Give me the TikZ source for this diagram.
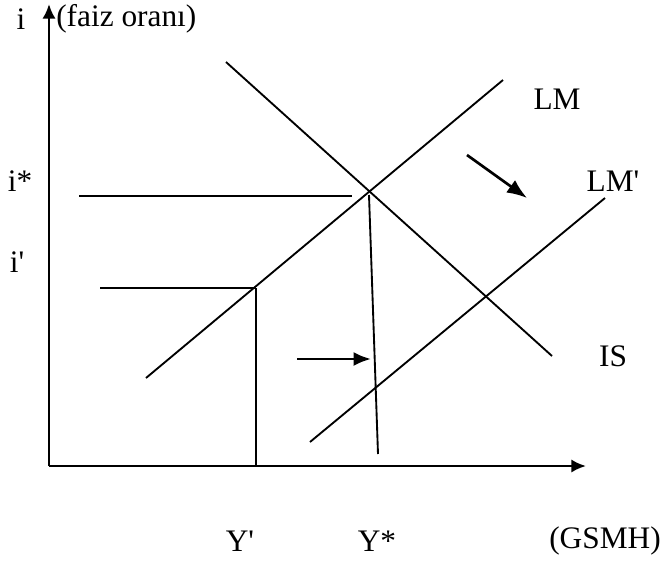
\documentclass[tikz,border=0pt]{standalone}
\usepackage{fontspec}
\setmainfont{Liberation Serif}
\usepackage{tikz}
\usetikzlibrary{arrows.meta}
\pgfdeclarelayer{edgelayer}
\pgfdeclarelayer{nodelayer}
\pgfsetlayers{edgelayer,nodelayer,main}
\tikzstyle{none}=[inner sep=0pt]
\tikzstyle{caption}=[inner sep=0pt, font=\fontsize{23.5}{28}\selectfont]
\tikzstyle{curve}=[draw=black, line width=1.4pt]
\tikzstyle{axis}=[draw=black, line width=2pt, -{Latex[length=11pt,width=10pt]}]
\tikzstyle{move}=[draw=black, line width=2pt, -{Latex[length=13pt,width=10.5pt]}]

\begin{document}
\begin{tikzpicture}[x=0.75pt, y=-0.75pt]
			\useasboundingbox (0, 0) rectangle (662, 565);
			\begin{pgfonlayer}{nodelayer}
			\node [style=none] (0) at (49, 466) {};
			\node [style=none] (1) at (49, 4) {};
			\node [style=none] (2) at (586, 466) {};
			\node [style=none] (3) at (146, 378) {};
			\node [style=none] (4) at (503, 80) {};
			\node [style=none] (5) at (226, 62) {};
			\node [style=none] (6) at (552, 356) {};
			\node [style=none] (7) at (310, 442) {};
			\node [style=none] (8) at (605, 198) {};
			\node [style=none] (9) at (79, 196) {};
			\node [style=none] (10) at (352, 196) {};
			\node [style=none] (11) at (369, 195) {};
			\node [style=none] (12) at (378, 454) {};
			\node [style=none] (13) at (100, 288) {};
			\node [style=none] (14) at (256, 288) {};
			\node [style=none] (15) at (256, 466) {};
			\node [style=none] (16) at (467, 155) {};
			\node [style=none] (17) at (527, 198) {};
			\node [style=none] (18) at (297, 359) {};
			\node [style=none] (19) at (371, 359) {};
			\node [style=caption] (20) at (21, 19) {i};
			\node [style=caption, anchor=west] (21) at (56, 19) {(faiz oranı)};
			\node [style=caption] (22) at (557, 99) {LM};
			\node [style=caption] (23) at (613, 181) {LM\textquotesingle};
			\node [style=caption] (24) at (613, 356) {IS};
			\node [style=caption] (25) at (20, 181) {i*};
			\node [style=caption] (26) at (17, 262) {i\textquotesingle};
			\node [style=caption] (27) at (240, 541) {Y\textquotesingle};
			\node [style=caption] (28) at (377, 541) {Y*};
			\node [style=caption] (29) at (605, 541) {(GSMH)};
			\end{pgfonlayer}
			\begin{pgfonlayer}{edgelayer}
			\draw [style=axis] (0.center) to (1.center);
			\draw [style=axis] (0.center) to (2.center);
			\draw [style=curve] (3.center) to (4.center);
			\draw [style=curve] (5.center) to (6.center);
			\draw [style=curve] (7.center) to (8.center);
			\draw [style=curve] (9.center) to (10.center);
			\draw [style=curve] (11.center) to (12.center);
			\draw [style=curve] (13.center) to (14.center);
			\draw [style=curve] (14.center) to (15.center);
			\draw [style=move, -{Latex[length=15pt,width=11.5pt]}] (16.center) to (17.center);
			\draw [style=move] (18.center) to (19.center);
			\end{pgfonlayer}
\end{tikzpicture}
\end{document}
